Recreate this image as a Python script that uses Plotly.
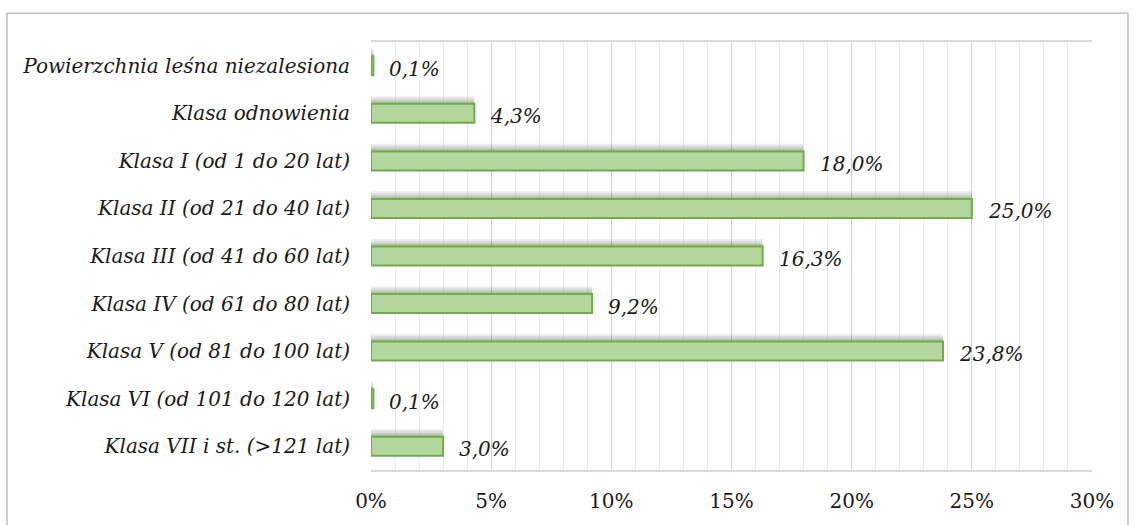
import plotly.graph_objects as go

categories = [
    "Powierzchnia leśna niezalesiona",
    "Klasa odnowienia",
    "Klasa I (od 1 do 20 lat)",
    "Klasa II (od 21 do 40 lat)",
    "Klasa III (od 41 do 60 lat)",
    "Klasa IV (od 61 do 80 lat)",
    "Klasa V (od 81 do 100 lat)",
    "Klasa VI (od 101 do 120 lat)",
    "Klasa VII i st. (>121 lat)",
]
values = [0.001, 0.043, 0.180, 0.250, 0.163, 0.092, 0.238, 0.001, 0.030]
value_labels = ["0,1%", "4,3%", "18,0%", "25,0%", "16,3%", "9,2%", "23,8%", "0,1%", "3,0%"]
tick_vals = [0, 0.05, 0.10, 0.15, 0.20, 0.25, 0.30]
tick_text = ["0%", "5%", "10%", "15%", "20%", "25%", "30%"]

FONT = "DejaVu Serif"
FS = 20
W, H = 1134, 525
ML, MR, MT, MB = 371, 42, 42, 53
BAR_W = 0.4

fig = go.Figure()
# blurred shadow above bars (layered translucent bars)
for ext in [0.16, 0.12, 0.08, 0.05, 0.025]:
    fig.add_trace(go.Bar(
        y=list(range(len(categories))), x=values, orientation="h",
        marker=dict(color="rgba(0,0,0,0.07)", line=dict(width=0)),
        width=BAR_W + ext, offset=-BAR_W / 2 - ext,
        hoverinfo="skip", showlegend=False,
    ))
fig.add_trace(go.Bar(
    y=list(range(len(categories))), x=values, orientation="h",
    marker=dict(color="#b3d79f", line=dict(color="#70ad47", width=2)),
    width=BAR_W, offset=-BAR_W / 2, showlegend=False,
    hovertext=categories,
))

for i, (v, t) in enumerate(zip(values, value_labels)):
    fig.add_annotation(x=v, y=i, text=t, showarrow=False, xanchor="left",
                       xshift=14, yshift=-3,
                       font=dict(family=FONT, size=FS, color="#1a1a1a", style="italic"))

fig.update_layout(
    width=W, height=H, barmode="overlay",
    margin=dict(l=ML, r=MR, t=MT, b=MB),
    plot_bgcolor="white", paper_bgcolor="white",
    font=dict(family=FONT, size=FS, color="#1a1a1a"),
    xaxis=dict(range=[0, 0.30], tickvals=tick_vals, ticktext=tick_text,
               showgrid=True, gridcolor="#d0d0d0", gridwidth=1,
               minor=dict(dtick=0.01, showgrid=True, gridcolor="#ececec", gridwidth=1),
               showline=True, linecolor="#d9d9d9", linewidth=1.5, mirror=True, zeroline=False,
               ticks="", ticklabelstandoff=12, tickfont=dict(family=FONT, size=FS)),
    yaxis=dict(range=[len(categories) - 0.5, -0.5], showgrid=False, showline=False,
               tickmode="array", tickvals=list(range(len(categories))), ticktext=categories,
               ticks="", ticklabelstandoff=20,
               tickfont=dict(family=FONT, size=FS, style="italic")),
)

pw = W - ML - MR
ph = H - MT - MB
fig.add_shape(type="rect", xref="paper", yref="paper",
              x0=(7 - ML) / pw, x1=(1128 - ML) / pw,
              y0=(H - 530 - MB) / ph, y1=(H - 13 - MB) / ph,
              line=dict(color="#bfbfbf", width=1.5), fillcolor="rgba(0,0,0,0)", layer="below")

fig.write_html("out.html")
